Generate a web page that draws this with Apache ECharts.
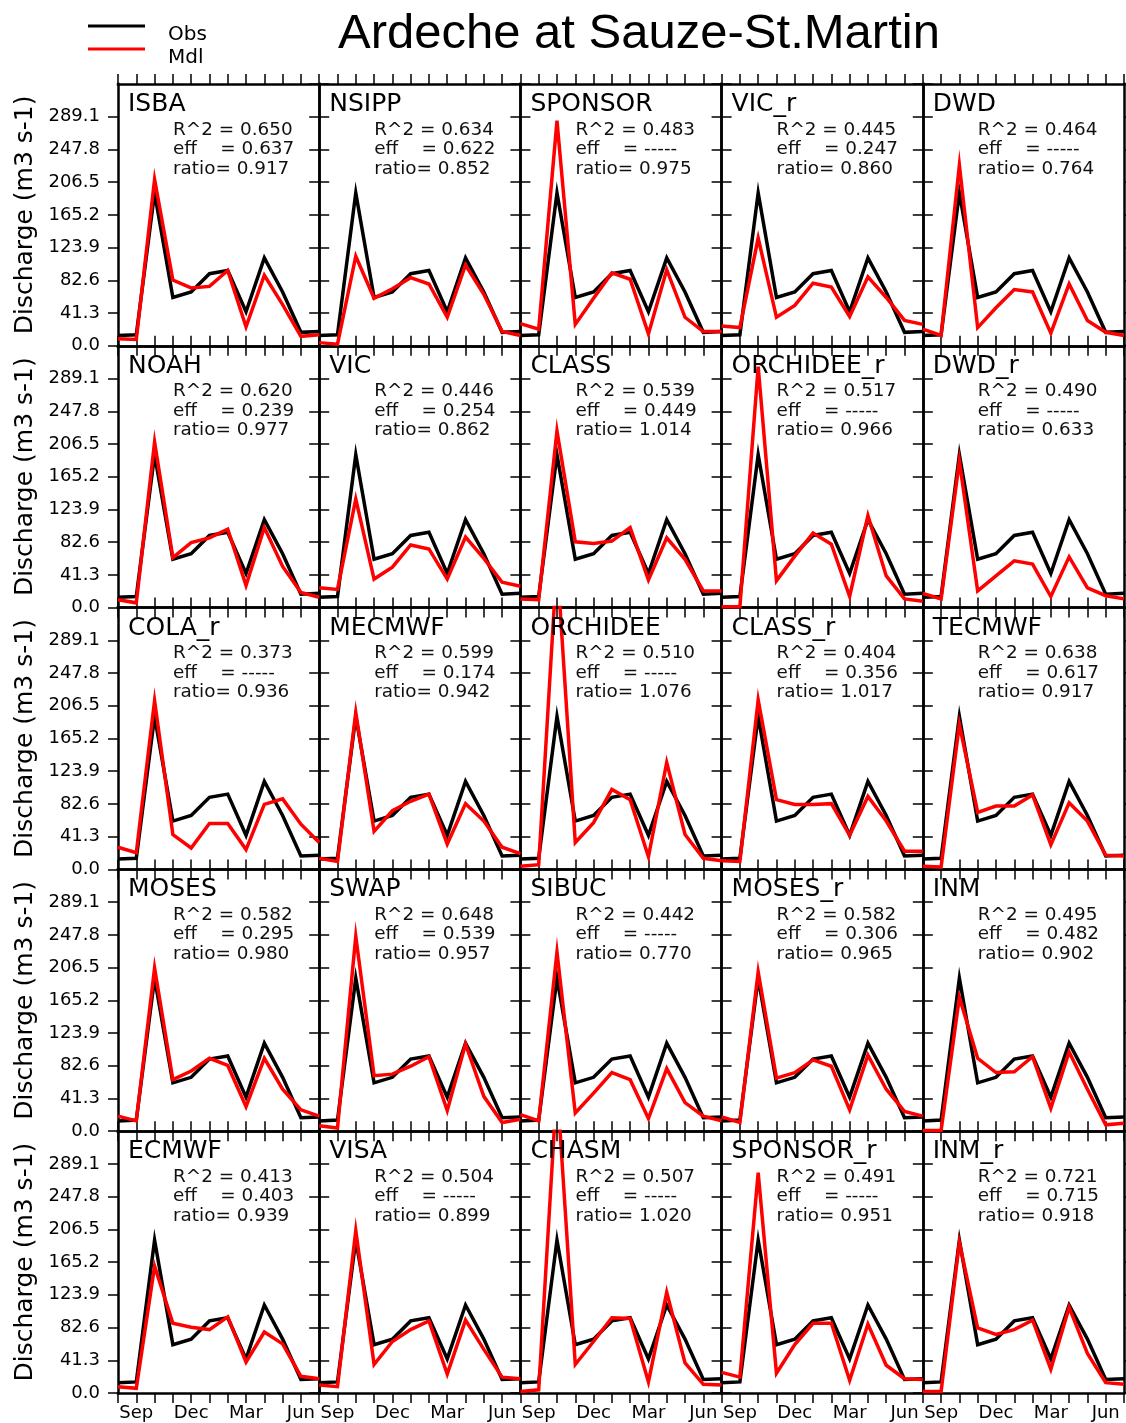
<!DOCTYPE html>
<html>
<head>
<meta charset="utf-8">
<script src="https://cdn.jsdelivr.net/npm/echarts@6/dist/echarts.min.js"></script>
<style>
  html, body { margin: 0; padding: 0; background: #fff; }
  #chart { width: 1126px; height: 1423px; }
</style>
</head>
<body>
<div id="chart"></div>
<script>
// Monthly mean discharge, water year Aug..Jul
const MONTHS = ['Aug', 'Sep', 'Oct', 'Nov', 'Dec', 'Jan', 'Feb', 'Mar', 'Apr', 'May', 'Jun', 'Jul'];
const SHOWN_MONTHS = ['Sep', 'Dec', 'Mar', 'Jun'];

// y axis ticks (m3 s-1)
const Y_MAX = 330.4;
const Y_STEP = 41.3;

// Observed discharge (same in every panel)
const OBS = [13, 14, 193, 61, 68, 91, 95, 43, 111, 68, 17, 18];

// Modelled discharge, one array per model
const ISBA       = [9, 8, 210, 83, 73, 75, 95, 24, 89, 52, 12, 14];
const NSIPP      = [4, 2, 113, 60, 72, 86, 78, 36, 102, 65, 18, 13];
const SPONSOR    = [28, 21, 284, 27, 60, 92, 84, 15, 96, 36, 18, 18];
const VIC_r      = [25, 23, 136, 36, 51, 79, 74, 37, 87, 61, 32, 27];
const DWD        = [21, 13, 228, 23, 48, 71, 68, 16, 78, 32, 17, 13];
const NOAH       = [10, 6, 209, 63, 82, 88, 99, 28, 101, 52, 19, 13];
const VIC        = [25, 23, 137, 36, 51, 79, 74, 36, 89, 62, 32, 27];
const CLASS      = [11, 10, 223, 83, 81, 84, 101, 35, 88, 61, 21, 21];
const ORCHIDEE_r = [1, 1, 304, 34, 65, 94, 80, 14, 116, 40, 11, 8];
const DWD_r      = [18, 11, 185, 21, 40, 59, 55, 14, 64, 25, 15, 11];
const COLA_r     = [28, 21, 213, 44, 27, 58, 58, 25, 82, 89, 57, 34];
const MECMWF     = [14, 10, 198, 48, 74, 86, 95, 32, 83, 61, 28, 20];
const ORCHIDEE   = [4, 6, 390, 34, 59, 101, 88, 16, 135, 44, 14, 11];
const CLASS_r    = [11, 10, 214, 88, 82, 82, 83, 43, 92, 61, 23, 23];
const TECMWF     = [4, 3, 183, 72, 80, 80, 94, 31, 84, 61, 18, 17];
const MOSES      = [19, 13, 206, 65, 76, 92, 83, 31, 92, 53, 27, 19];
const SWAP       = [7, 4, 246, 70, 72, 82, 94, 26, 110, 44, 11, 15];
const SIBUC      = [21, 13, 226, 23, 48, 74, 65, 16, 79, 36, 19, 13];
const MOSES_r    = [18, 11, 201, 67, 74, 90, 82, 27, 96, 53, 25, 19];
const INM        = [1, 1, 169, 92, 74, 75, 94, 29, 100, 53, 8, 10];
const ECMWF      = [8, 6, 160, 88, 83, 80, 96, 39, 77, 62, 21, 18];
const VISA       = [10, 8, 205, 36, 65, 80, 91, 24, 92, 55, 20, 18];
const CHASM      = [2, 4, 390, 36, 65, 95, 94, 14, 127, 38, 11, 10];
const SPONSOR_r  = [26, 20, 278, 25, 61, 88, 88, 16, 87, 35, 18, 17];
const INM_r      = [2, 2, 190, 82, 74, 80, 92, 30, 108, 50, 13, 11];

// Panel order (row by row)
const MODEL_NAMES = ['ISBA', 'NSIPP', 'SPONSOR', 'VIC_r', 'DWD',
                     'NOAH', 'VIC', 'CLASS', 'ORCHIDEE_r', 'DWD_r',
                     'COLA_r', 'MECMWF', 'ORCHIDEE', 'CLASS_r', 'TECMWF',
                     'MOSES', 'SWAP', 'SIBUC', 'MOSES_r', 'INM',
                     'ECMWF', 'VISA', 'CHASM', 'SPONSOR_r', 'INM_r'];
const MODEL_VALUES = [ISBA, NSIPP, SPONSOR, VIC_r, DWD,
                      NOAH, VIC, CLASS, ORCHIDEE_r, DWD_r,
                      COLA_r, MECMWF, ORCHIDEE, CLASS_r, TECMWF,
                      MOSES, SWAP, SIBUC, MOSES_r, INM,
                      ECMWF, VISA, CHASM, SPONSOR_r, INM_r];

// Skill scores per panel (null efficiency printed as dashes)
const R2 = [0.650, 0.634, 0.483, 0.445, 0.464,
            0.620, 0.446, 0.539, 0.517, 0.490,
            0.373, 0.599, 0.510, 0.404, 0.638,
            0.582, 0.648, 0.442, 0.582, 0.495,
            0.413, 0.504, 0.507, 0.491, 0.721];
const EFF = [0.637, 0.622, null, 0.247, null,
             0.239, 0.254, 0.449, null, null,
             null, 0.174, null, 0.356, 0.617,
             0.295, 0.539, null, 0.306, 0.482,
             0.403, null, null, null, 0.715];
const RATIO = [0.917, 0.852, 0.975, 0.860, 0.764,
               0.977, 0.862, 1.014, 0.966, 0.633,
               0.936, 0.942, 1.076, 1.017, 0.917,
               0.980, 0.957, 0.770, 0.965, 0.902,
               0.939, 0.899, 1.020, 0.951, 0.918];

const SERIES_NAMES = ['Obs', 'Mdl'];

const FONT = 'DejaVu Sans';
const COLS = 5, ROWS = 5;
const GRID_LEFT = 118, GRID_TOP = 84, CELL_W = 201.2, CELL_H = 261.8;

const chart = echarts.init(document.getElementById('chart'), null, { renderer: 'canvas' });

const frameLine = { show: true, onZero: false, lineStyle: { color: '#000', width: 2.5, cap: 'square' } };
const tickStyle = { color: '#000', width: 1.5 };

const grids = [], xAxes = [], yAxes = [], series = [];
const titles = [{
  text: 'Ardeche at Sauze-St.Martin',
  left: 338, top: 10, padding: 0,
  textStyle: { fontFamily: 'Liberation Sans', fontSize: 49, fontWeight: 'normal', color: '#000' }
}];

MODEL_NAMES.forEach((name, k) => {
  const r = Math.floor(k / COLS), c = k % COLS;
  const left = GRID_LEFT + c * CELL_W;
  const top = GRID_TOP + r * CELL_H;
  const lastRow = r === ROWS - 1;
  const firstCol = c === 0;

  grids.push({ left, top, width: CELL_W, height: CELL_H, containLabel: false });

  const xBase = {
    type: 'category', gridIndex: k, data: MONTHS, boundaryGap: false,
    axisLine: frameLine,
    axisTick: { show: true, interval: 0, inside: false, length: 10, lineStyle: tickStyle },
    splitLine: { show: false }
  };
  xAxes.push(Object.assign({}, xBase, {
    position: 'bottom',
    axisLabel: {
      show: lastRow,
      interval: (i, v) => SHOWN_MONTHS.indexOf(v) >= 0,
      margin: 11, fontFamily: FONT, fontSize: 18, color: '#000'
    }
  }));
  xAxes.push(Object.assign({}, xBase, { position: 'top', axisLabel: { show: false } }));

  const yBase = {
    type: 'value', gridIndex: k, min: 0, max: Y_MAX, interval: Y_STEP,
    axisLine: frameLine,
    axisTick: { show: true, inside: false, length: 10, lineStyle: tickStyle },
    splitLine: { show: false }
  };
  yAxes.push(Object.assign({}, yBase, {
    position: 'left',
    name: firstCol ? 'Discharge (m3 s-1)' : '',
    nameLocation: 'middle', nameGap: 80,
    nameTextStyle: { fontFamily: FONT, fontSize: 25, color: '#000' },
    axisLabel: {
      show: firstCol, showMaxLabel: false, showMinLabel: true,
      formatter: v => v.toFixed(1),
      margin: 18, fontFamily: FONT, fontSize: 18, color: '#000'
    }
  }));
  yAxes.push(Object.assign({}, yBase, { position: 'right', axisLabel: { show: false } }));

  const lineBase = { type: 'line', showSymbol: false, symbol: 'none', silent: true,
                     animation: false, clip: true,
                     xAxisIndex: 2 * k, yAxisIndex: 2 * k };
  series.push(Object.assign({}, lineBase, {
    name: SERIES_NAMES[0], data: OBS, itemStyle: { color: '#000' },
    lineStyle: { color: '#000', width: 3.5, join: 'miter', miterLimit: 10 }, z: 3
  }));
  series.push(Object.assign({}, lineBase, {
    name: SERIES_NAMES[1], data: MODEL_VALUES[k], itemStyle: { color: '#ff0000' },
    lineStyle: { color: '#ff0000', width: 3.5, join: 'miter', miterLimit: 10 }, z: 4
  }));

  titles.push({
    text: name, left: left + 10, top: top + 8, padding: 0,
    textStyle: { fontFamily: FONT, fontSize: 25, fontWeight: 'normal', color: '#000' }
  });
  const effText = EFF[k] === null ? '-----' : EFF[k].toFixed(3);
  titles.push({
    text: 'R^2 = ' + R2[k].toFixed(3) + '\neff    = ' + effText + '\nratio= ' + RATIO[k].toFixed(3),
    left: left + 55, top: top + 36, padding: 0,
    textStyle: { fontFamily: FONT, fontSize: 18.4, lineHeight: 19.5, fontWeight: 'normal', color: '#111' }
  });
});

// Legend swatches (names are written just below-right of each swatch)
const legendBase = {
  orient: 'vertical', left: 88, padding: 0, itemGap: 0,
  icon: 'rect', itemWidth: 57, itemHeight: 3, selectedMode: false,
  formatter: () => ' ',
  textStyle: { fontFamily: FONT, fontSize: 20, color: '#000' }
};
const legendLabelStyle = { fontFamily: FONT, fontSize: 20, fontWeight: 'normal', color: '#000' };
titles.push({ text: SERIES_NAMES[0], left: 168, top: 25, padding: 0, textStyle: legendLabelStyle });
titles.push({ text: SERIES_NAMES[1], left: 168, top: 48, padding: 0, textStyle: legendLabelStyle });

chart.setOption({
  animation: false,
  backgroundColor: '#fff',
  title: titles,
  legend: [
    Object.assign({}, legendBase, { data: [SERIES_NAMES[0]], top: 16 }),
    Object.assign({}, legendBase, { data: [SERIES_NAMES[1]], top: 39 })
  ],
  grid: grids,
  xAxis: xAxes,
  yAxis: yAxes,
  series: series
});
</script>
</body>
</html>
